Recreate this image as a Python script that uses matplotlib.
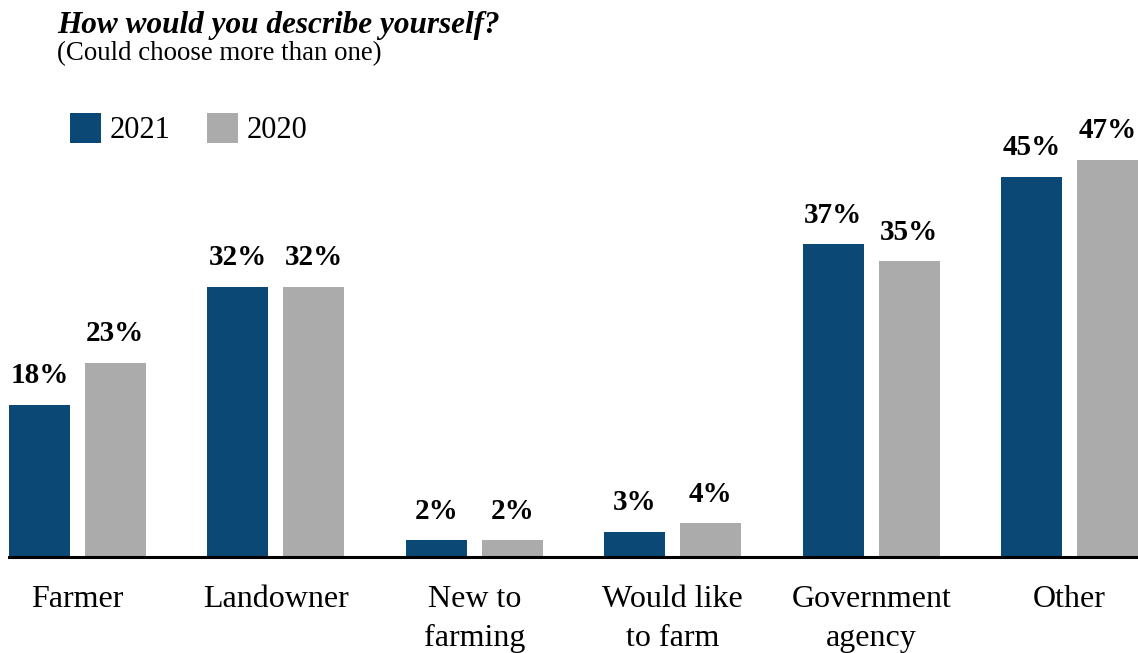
import numpy as np
import matplotlib.pyplot as plt

categories = ["Farmer", "Landowner", "New to\nfarming", "Would like\nto farm",
              "Government\nagency", "Other"]
share_2021 = [18, 32, 2, 3, 37, 45]
share_2020 = [23, 32, 2, 4, 35, 47]

BLUE = "#0c4875"
GRAY = "#ababab"

plt.rcParams["font.family"] = ["Liberation Serif", "DejaVu Serif"]

fig = plt.figure(figsize=(11.38, 6.53), dpi=100)
ax = fig.add_axes([9 / 1138, 96 / 653, 1129 / 1138, 422.5 / 653])

x = np.arange(len(categories))
width = 0.3065
offset = 0.191
b21 = ax.bar(x - offset, share_2021, width, color=BLUE, label="2021")
b20 = ax.bar(x + offset, share_2020, width, color=GRAY, label="2020")

for bars, vals in ((b21, share_2021), (b20, share_2020)):
    for rect, v in zip(bars, vals):
        ax.annotate(f"{v}%", (rect.get_x() + rect.get_width() / 2, rect.get_height()),
                    xytext=(0, 15.5), textcoords="offset points",
                    ha="center", va="baseline", fontsize=21, fontweight="bold")

ax.set_xlim(-offset - width / 2, len(categories) - 1 + offset + width / 2)
ax.set_ylim(0, 50)
ax.set_xticks(x)
ax.set_xticklabels(categories, fontsize=23, linespacing=1.45)
ax.tick_params(axis="x", length=0, pad=20)
ax.set_yticks([])
for side in ("top", "right", "left"):
    ax.spines[side].set_visible(False)
ax.spines["bottom"].set_linewidth(2.2)
ax.spines["bottom"].set_color("black")

fig.text(57 / 1138, 1 - 33 / 653, "How would you describe yourself?",
         fontsize=22.5, fontweight="bold", fontstyle="italic", va="baseline")
fig.text(57 / 1138, 1 - 60 / 653, "(Could choose more than one)",
         fontsize=19.4, va="baseline")

fig.legend(handles=[b21, b20], loc="upper left",
           bbox_to_anchor=(70 / 1138, 1 - 113 / 653), ncol=2, frameon=False,
           fontsize=22, handlelength=1.0, handleheight=1.12,
           borderpad=0, borderaxespad=0,
           handletextpad=0.3, columnspacing=1.2)

fig.savefig("out.png", dpi=100)
